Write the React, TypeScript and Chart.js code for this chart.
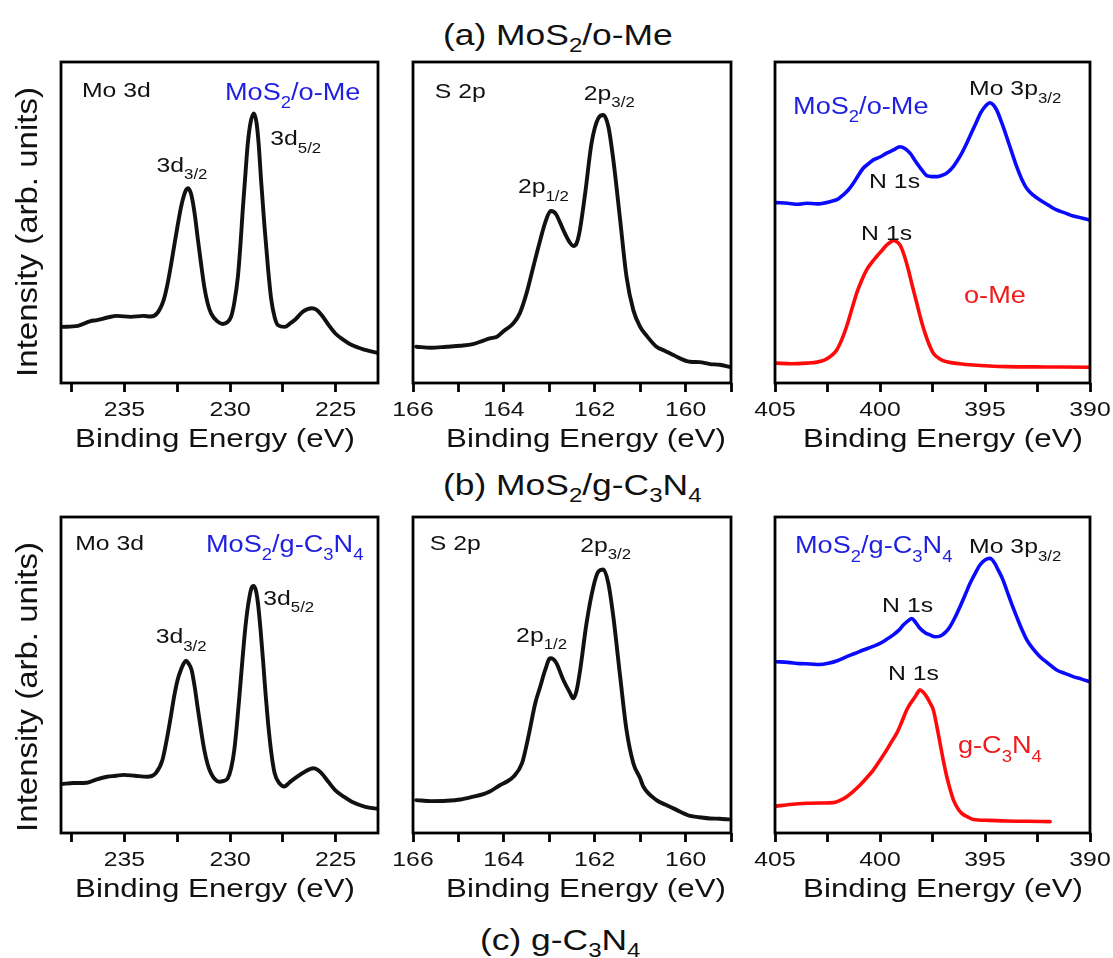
import React, { useEffect, useRef } from 'react';
import { Chart, registerables } from 'chart.js';

Chart.register(...registerables);

// ---------------------------------------------------------------------------
// XPS spectra: binding energy (eV) and normalised intensity (arb. units)
// ---------------------------------------------------------------------------

// (a) MoS2/o-Me — Mo 3d
const oMeMo3dEnergy = [237.97, 237.2, 236.6, 236.3, 235.8, 235.35, 234.7, 234.1, 233.76, 233.44, 233.14, 232.97, 232.81, 232.65, 232.49, 232.33, 232.2, 232.08, 231.99, 231.88, 231.78, 231.66, 231.54, 231.38, 231.22, 231.06, 230.9, 230.6, 230.35, 230.12, 229.95, 229.8, 229.63, 229.52, 229.4, 229.28, 229.16, 229.02, 228.87, 228.75, 228.65, 228.52, 228.37, 228.2, 228.05, 227.89, 227.73, 227.41, 227.15, 226.94, 226.54, 226.14, 225.9, 225.67, 225.35, 225.03, 224.6, 224.24, 223.6, 222.97];
const oMeMo3dIntensity = [17.5, 17.8, 19.3, 19.6, 20.4, 20.9, 20.6, 20.9, 20.7, 21.8, 25.9, 30.5, 36.2, 42.5, 48.7, 54.5, 58.0, 60.2, 60.7, 59.6, 57.0, 52.0, 45.6, 37.5, 30.0, 24.8, 21.7, 19.2, 18.4, 19.0, 20.7, 25.0, 33.1, 42.0, 53.9, 64.5, 74.7, 81.5, 84.0, 81.2, 74.7, 62.0, 48.7, 35.5, 25.9, 20.5, 18.0, 17.5, 18.6, 19.6, 22.3, 23.3, 22.8, 21.2, 18.2, 15.5, 13.3, 11.8, 10.3, 9.3];

// (a) MoS2/o-Me — S 2p
const oMeS2pEnergy = [165.93, 165.6, 165.26, 164.95, 164.68, 164.45, 164.31, 164.15, 164.02, 163.79, 163.65, 163.5, 163.35, 163.2, 163.07, 162.97, 162.9, 162.84, 162.69, 162.55, 162.47, 162.4, 162.34, 162.21, 162.07, 161.92, 161.81, 161.7, 161.59, 161.44, 161.3, 161.15, 161.0, 160.85, 160.64, 160.45, 160.27, 159.9, 159.7, 159.46, 159.25, 159.03];
const oMeS2pIntensity = [11.3, 11.0, 11.3, 11.6, 12.1, 13.2, 13.9, 14.4, 16.0, 18.6, 21.7, 28.0, 36.3, 44.5, 50.8, 53.6, 53.3, 52.3, 47.6, 43.8, 42.7, 43.5, 46.6, 59.1, 74.7, 82.5, 83.5, 79.9, 69.5, 50.8, 33.1, 22.7, 17.5, 14.6, 11.3, 10.0, 8.7, 6.6, 6.5, 5.9, 5.7, 5.0];

// (a) MoS2/o-Me — N 1s / Mo 3p region
const oMeN1sEnergy = [404.95, 404.4, 403.9, 403.49, 403.0, 402.38, 402.0, 401.75, 401.5, 401.27, 401.0, 400.8, 400.55, 400.32, 400.0, 399.68, 399.35, 399.05, 398.8, 398.57, 398.3, 398.01, 397.75, 397.54, 397.25, 396.99, 396.75, 396.51, 396.2, 395.87, 395.6, 395.4, 395.2, 395.0, 394.76, 394.6, 394.44, 394.2, 393.97, 393.73, 393.49, 393.25, 393.01, 392.7, 392.38, 391.98, 391.59, 391.2, 390.8, 390.4, 390.03];
const oMeN1sIntensity = [56.2, 56.0, 55.7, 56.0, 55.8, 56.5, 57.3, 58.6, 60.2, 62.2, 65.0, 66.9, 68.3, 69.5, 70.4, 71.6, 72.6, 73.6, 73.0, 71.6, 69.0, 66.4, 64.5, 64.3, 64.3, 64.8, 65.8, 67.4, 70.5, 74.7, 78.6, 81.4, 84.2, 86.1, 87.3, 86.6, 85.0, 81.0, 76.7, 72.0, 67.4, 63.5, 60.6, 58.5, 57.0, 55.4, 53.9, 53.0, 52.0, 51.4, 50.8];

// o-Me reference — N 1s
const oMeRefEnergy = [404.95, 404.2, 403.49, 403.0, 402.62, 402.3, 402.06, 401.82, 401.59, 401.35, 401.11, 400.87, 400.63, 400.4, 400.16, 399.92, 399.68, 399.5, 399.37, 399.2, 399.05, 398.85, 398.65, 398.45, 398.25, 398.05, 397.86, 397.66, 397.46, 397.15, 396.82, 396.2, 395.56, 394.8, 393.97, 392.0, 390.03];
const oMeRefIntensity = [6.2, 6.0, 6.2, 6.5, 7.2, 8.6, 10.3, 13.5, 17.6, 22.8, 28.0, 32.0, 35.3, 37.5, 39.4, 41.2, 43.0, 43.9, 44.4, 44.0, 43.0, 39.8, 35.3, 30.0, 24.9, 19.8, 15.6, 12.0, 9.3, 7.5, 6.6, 6.0, 5.6, 5.3, 5.1, 5.0, 4.9];

// (b) MoS2/g-C3N4 — Mo 3d
const gcnMo3dEnergy = [237.97, 237.4, 236.78, 236.3, 235.82, 235.4, 235.03, 234.5, 233.92, 233.52, 233.2, 232.97, 232.8, 232.65, 232.48, 232.33, 232.18, 232.08, 231.96, 231.82, 231.68, 231.54, 231.38, 231.22, 231.06, 230.9, 230.7, 230.51, 230.3, 230.11, 229.95, 229.8, 229.68, 229.56, 229.44, 229.32, 229.2, 229.08, 228.98, 228.89, 228.78, 228.68, 228.56, 228.44, 228.32, 228.2, 228.05, 227.89, 227.65, 227.44, 227.2, 226.94, 226.46, 226.06, 225.85, 225.67, 225.35, 225.03, 224.6, 224.24, 223.6, 222.97];
const gcnMo3dIntensity = [15.5, 15.8, 15.9, 17.0, 17.8, 18.1, 18.4, 18.1, 17.8, 18.9, 23.1, 30.5, 37.0, 43.1, 48.5, 51.6, 53.8, 54.5, 53.6, 51.6, 46.5, 40.0, 32.8, 26.3, 21.7, 18.9, 16.9, 16.2, 16.5, 17.3, 20.5, 26.3, 34.0, 43.1, 52.8, 62.1, 69.5, 74.8, 77.6, 78.2, 76.8, 72.7, 64.5, 54.7, 44.0, 34.7, 25.5, 18.9, 15.6, 14.7, 15.9, 17.3, 19.4, 20.5, 20.0, 18.9, 16.2, 13.6, 11.4, 9.9, 8.3, 7.6];

// (b) MoS2/g-C3N4 — S 2p
const gcnS2pEnergy = [165.93, 165.6, 165.26, 164.95, 164.67, 164.45, 164.31, 164.08, 163.93, 163.79, 163.6, 163.46, 163.31, 163.2, 163.09, 162.98, 162.91, 162.84, 162.69, 162.55, 162.47, 162.4, 162.32, 162.18, 162.03, 161.92, 161.81, 161.7, 161.59, 161.44, 161.3, 161.15, 161.0, 160.93, 160.64, 160.45, 160.27, 159.9, 159.7, 159.46, 159.25, 159.04];
const gcnS2pIntensity = [10.4, 10.1, 10.2, 10.6, 11.5, 12.3, 13.1, 15.2, 16.3, 17.8, 22.1, 30.5, 41.0, 46.3, 51.6, 55.3, 55.0, 53.7, 48.4, 44.5, 42.6, 45.0, 51.6, 66.4, 77.9, 82.7, 83.4, 79.0, 68.4, 49.5, 32.6, 22.1, 17.3, 14.7, 10.4, 9.0, 7.8, 5.4, 5.0, 4.6, 4.5, 4.3];

// (b) MoS2/g-C3N4 — N 1s / Mo 3p region
const gcnN1sEnergy = [404.95, 404.4, 403.8, 403.33, 402.9, 402.46, 402.0, 401.59, 401.2, 400.8, 400.4, 400.0, 399.7, 399.37, 399.1, 398.89, 398.65, 398.49, 398.3, 398.1, 397.85, 397.62, 397.38, 397.14, 396.9, 396.67, 396.43, 396.19, 395.95, 395.71, 395.48, 395.24, 395.0, 394.76, 394.55, 394.37, 394.15, 393.97, 393.73, 393.49, 393.25, 393.01, 392.7, 392.38, 391.98, 391.59, 391.2, 390.8, 390.4, 390.03];
const gcnN1sIntensity = [54.2, 54.0, 53.6, 53.5, 53.3, 53.7, 54.6, 55.8, 56.8, 57.9, 58.9, 60.0, 61.2, 62.7, 64.2, 65.8, 67.2, 67.9, 66.6, 64.8, 63.4, 62.7, 62.1, 62.3, 63.4, 65.3, 68.2, 71.6, 75.3, 79.0, 82.0, 84.8, 86.4, 86.9, 85.5, 83.2, 80.2, 76.9, 72.5, 68.4, 64.5, 61.1, 58.2, 55.8, 53.6, 51.6, 50.5, 49.5, 48.7, 47.9];

// (c) g-C3N4 reference — N 1s
const gcnRefEnergy = [404.95, 404.3, 403.49, 402.8, 402.22, 401.9, 401.59, 401.27, 400.95, 400.63, 400.32, 400.0, 399.68, 399.44, 399.2, 398.96, 398.73, 398.53, 398.33, 398.2, 398.1, 397.95, 397.78, 397.62, 397.46, 397.3, 397.14, 396.98, 396.82, 396.66, 396.5, 396.3, 396.11, 395.8, 395.56, 394.8, 393.97, 393.0, 391.9];
const gcnRefIntensity = [8.5, 9.0, 9.4, 9.5, 9.6, 10.3, 11.5, 13.2, 15.2, 17.5, 19.9, 23.0, 26.3, 29.0, 31.6, 35.2, 38.9, 41.2, 43.1, 44.5, 45.3, 44.6, 43.1, 41.2, 38.9, 34.0, 28.4, 22.8, 17.8, 13.8, 10.4, 7.8, 6.2, 5.0, 4.3, 4.0, 3.8, 3.7, 3.6];

// Axis ticks (every tick gets a mark, labelled ones get a number)
const mo3dTicks = [237.5, 235, 232.5, 230, 227.5, 225];
const mo3dTickLabels = [235, 230, 225];
const s2pTicks = [166, 165, 164, 163, 162, 161, 160, 159];
const s2pTickLabels = [166, 164, 162, 160];
const n1sTicks = [405, 402.5, 400, 397.5, 395, 392.5, 390];
const n1sTickLabels = [405, 400, 395, 390];

// ---------------------------------------------------------------------------
// Styling
// ---------------------------------------------------------------------------
const FONT = '"Liberation Sans", Arial, Helvetica, sans-serif';
const SX = 1.18; // horizontal text stretch used throughout the figure
const BLACK = '#111111';
const BLUE_LINE = '#0a0aff';
const RED_LINE = '#ff0a0a';
const BLUE_TEXT = '#1f1fe0';
const RED_TEXT = '#ee1c1c';

type Seg = { t: string; sub: boolean };

// "MoS_{2}/o-Me" -> text runs with subscripts
function parseRich(s: string): Seg[] {
  const out: Seg[] = [];
  const re = /_\{([^}]*)\}/g;
  let last = 0;
  let m: RegExpExecArray | null;
  while ((m = re.exec(s))) {
    if (m.index > last) out.push({ t: s.slice(last, m.index), sub: false });
    out.push({ t: m[1], sub: true });
    last = m.index + m[0].length;
  }
  if (last < s.length) out.push({ t: s.slice(last), sub: false });
  return out;
}

function drawRich(
  ctx: CanvasRenderingContext2D,
  text: string,
  x: number,
  y: number,
  size: number,
  color: string,
  align: 'left' | 'center'
) {
  const segs = parseRich(text);
  const subSize = size * 0.68;
  const font = (s: number) => `${s}px ${FONT}`;
  ctx.save();
  ctx.fillStyle = color;
  ctx.textAlign = 'left';
  ctx.textBaseline = 'alphabetic';
  let w = 0;
  for (const sg of segs) {
    ctx.font = font(sg.sub ? subSize : size);
    w += ctx.measureText(sg.t).width;
  }
  ctx.translate(x, y);
  ctx.scale(SX, 1);
  let cx = align === 'center' ? -w / 2 : 0;
  for (const sg of segs) {
    ctx.font = font(sg.sub ? subSize : size);
    ctx.fillText(sg.t, cx, sg.sub ? size * 0.36 : 0);
    cx += ctx.measureText(sg.t).width;
  }
  ctx.restore();
}

type Series = { energy: number[]; intensity: number[]; color: string; width: number };
type Note = { e: number; i: number; text: string; color: string; size: number };

type PanelSpec = {
  key: string;
  left: number;
  top: number;
  width: number;
  height: number;
  padLeft: number;
  padRight: number;
  padTop: number;
  axisHeight: number;
  min: number;
  max: number;
  ticks: number[];
  tickLabels: number[];
  titleX: number;
  series: Series[];
  notes: Note[];
  yTitleCenter?: number;
};

const ROW1 = { top: 50, height: 420, padTop: 12, axisHeight: 87 };
const ROW2 = { top: 505, height: 415, padTop: 12, axisHeight: 87 };
const COL_A = { left: 0, width: 400, padLeft: 61, padRight: 22, titleX: 215 };
const COL_B = { left: 380, width: 380, padLeft: 33, padRight: 29, titleX: 586 };
const COL_C = { left: 740, width: 373, padLeft: 35, padRight: 23, titleX: 943 };

const MO3D = { min: 223, max: 238, ticks: mo3dTicks, tickLabels: mo3dTickLabels };
const S2P = { min: 159, max: 166, ticks: s2pTicks, tickLabels: s2pTickLabels };
const N1S = { min: 390, max: 405, ticks: n1sTicks, tickLabels: n1sTickLabels };

const note = (e: number, i: number, text: string, color = BLACK, size = 21): Note => ({ e, i, text, color, size });

const panels: PanelSpec[] = [
  {
    key: 'a-mo3d', ...ROW1, ...COL_A, ...MO3D, yTitleCenter: 232,
    series: [{ energy: oMeMo3dEnergy, intensity: oMeMo3dIntensity, color: BLACK, width: 3.9 }],
    notes: [
      note(237.01, 89.2, 'Mo 3d'),
      note(230.24, 88.2, 'MoS_{2}/o-Me', BLUE_TEXT, 23),
      note(233.48, 65.8, '3d_{3/2}'),
      note(228.1, 74.1, '3d_{5/2}'),
    ],
  },
  {
    key: 'a-s2p', ...ROW1, ...COL_B, ...S2P,
    series: [{ energy: oMeS2pEnergy, intensity: oMeS2pIntensity, color: BLACK, width: 3.9 }],
    notes: [
      note(165.52, 88.7, 'S 2p'),
      note(162.24, 88.2, '2p_{3/2}'),
      note(163.69, 59.1, '2p_{1/2}'),
    ],
  },
  {
    key: 'a-n1s', ...ROW1, ...COL_C, ...N1S,
    series: [
      { energy: oMeN1sEnergy, intensity: oMeN1sIntensity, color: BLUE_LINE, width: 3.6 },
      { energy: oMeRefEnergy, intensity: oMeRefIntensity, color: RED_LINE, width: 3.6 },
    ],
    notes: [
      note(404.14, 83.8, 'MoS_{2}/o-Me', BLUE_TEXT, 23),
      note(395.76, 89.7, 'Mo 3p_{3/2}'),
      note(400.52, 60.7, 'N 1s'),
      note(400.9, 44.5, 'N 1s'),
      note(396.0, 24.8, 'o-Me', RED_TEXT, 23),
    ],
  },
  {
    key: 'b-mo3d', ...ROW2, ...COL_A, ...MO3D, yTitleCenter: 687,
    series: [{ energy: gcnMo3dEnergy, intensity: gcnMo3dIntensity, color: BLACK, width: 3.9 }],
    notes: [
      note(237.33, 89.6, 'Mo 3d'),
      note(231.14, 89.0, 'MoS_{2}/g-C_{3}N_{4}', BLUE_TEXT, 23),
      note(233.52, 60.0, '3d_{3/2}'),
      note(228.43, 72.2, '3d_{5/2}'),
    ],
  },
  {
    key: 'b-s2p', ...ROW2, ...COL_B, ...S2P,
    series: [{ energy: gcnS2pEnergy, intensity: gcnS2pIntensity, color: BLACK, width: 3.9 }],
    notes: [
      note(165.63, 89.6, 'S 2p'),
      note(162.32, 89.0, '2p_{3/2}'),
      note(163.73, 60.5, '2p_{1/2}'),
    ],
  },
  {
    key: 'b-n1s', ...ROW2, ...COL_C, ...N1S,
    series: [
      { energy: gcnN1sEnergy, intensity: gcnN1sIntensity, color: BLUE_LINE, width: 3.6 },
      { energy: gcnRefEnergy, intensity: gcnRefIntensity, color: RED_LINE, width: 3.6 },
    ],
    notes: [
      note(404.05, 88.5, 'MoS_{2}/g-C_{3}N_{4}', BLUE_TEXT, 23),
      note(395.76, 88.5, 'Mo 3p_{3/2}'),
      note(399.9, 70.0, 'N 1s'),
      note(399.62, 48.4, 'N 1s'),
      note(396.29, 25.2, 'g-C_{3}N_{4}', RED_TEXT, 23),
    ],
  },
];

function makeDecor(spec: PanelSpec) {
  return {
    id: 'decor-' + spec.key,
    afterDatasetsDraw(chart: any) {
      const ctx: CanvasRenderingContext2D = chart.ctx;
      const a = chart.chartArea;
      const xs = chart.scales.x;
      const ys = chart.scales.y;

      // closed frame around the plot area
      ctx.save();
      ctx.strokeStyle = '#000';
      ctx.lineWidth = 2.8;
      ctx.strokeRect(a.left, a.top, a.right - a.left, a.bottom - a.top);
      ctx.restore();

      // tick numbers
      for (const v of spec.tickLabels) {
        drawRich(ctx, String(v), xs.getPixelForValue(v), a.bottom + 33, 21, BLACK, 'center');
      }
      // axis title
      drawRich(ctx, 'Binding Energy (eV)', spec.titleX - spec.left, a.bottom + 63.5, 26.5, BLACK, 'center');

      // peak / sample annotations
      for (const n of spec.notes) {
        drawRich(ctx, n.text, xs.getPixelForValue(n.e), ys.getPixelForValue(n.i), n.size, n.color, 'left');
      }

      // shared intensity label on the left of each row
      if (spec.yTitleCenter !== undefined) {
        ctx.save();
        ctx.translate(37 - spec.left, spec.yTitleCenter - spec.top);
        ctx.rotate(-Math.PI / 2);
        ctx.scale(1, 0.92);
        ctx.font = `33px ${FONT}`;
        ctx.fillStyle = BLACK;
        ctx.textAlign = 'center';
        ctx.textBaseline = 'alphabetic';
        ctx.fillText('Intensity (arb. units)', 0, 0);
        ctx.restore();
      }
    },
  };
}

function Panel({ spec }: { spec: PanelSpec }) {
  const ref = useRef<HTMLCanvasElement>(null);
  useEffect(() => {
    const canvas = ref.current;
    if (!canvas) return;
    const chart = new Chart(canvas, {
      type: 'line',
      data: {
        datasets: spec.series.map((s) => ({
          data: s.energy.map((e, k) => ({ x: e, y: s.intensity[k] })),
          borderColor: s.color,
          borderWidth: s.width,
          pointRadius: 0,
          fill: false,
          cubicInterpolationMode: 'monotone' as const,
          borderJoinStyle: 'round' as const,
          borderCapStyle: 'round' as const,
        })),
      },
      options: {
        responsive: false,
        animation: false,
        devicePixelRatio: 1,
        events: [],
        layout: { padding: { left: spec.padLeft, right: spec.padRight, top: spec.padTop, bottom: 0 } },
        plugins: { legend: { display: false }, tooltip: { enabled: false } },
        scales: {
          x: {
            type: 'linear',
            position: 'bottom',
            min: spec.min,
            max: spec.max,
            reverse: true,
            afterBuildTicks: (scale: any) => {
              scale.ticks = spec.ticks.map((v) => ({ value: v }));
            },
            afterFit: (scale: any) => {
              scale.height = spec.axisHeight;
            },
            ticks: { display: false },
            grid: {
              display: true,
              drawOnChartArea: false,
              drawTicks: true,
              tickLength: 9,
              tickWidth: 2.8,
              tickColor: '#000',
            },
            border: { display: false },
          },
          y: { display: false, min: 0, max: 100 },
        },
      } as any,
      plugins: [makeDecor(spec)],
    });
    return () => chart.destroy();
  }, [spec]);
  return (
    <canvas
      ref={ref}
      width={spec.width}
      height={spec.height}
      style={{ position: 'absolute', left: spec.left, top: spec.top, width: spec.width, height: spec.height }}
    />
  );
}

function RowTitle({ x, baseline, text }: { x: number; baseline: number; text: string }) {
  const fs = 30;
  const lh = 30;
  const baseOffset = (lh - 1.117 * fs) / 2 + 0.905 * fs;
  return (
    <div
      style={{
        position: 'absolute',
        left: x,
        top: baseline - baseOffset,
        fontFamily: FONT,
        fontSize: fs,
        lineHeight: `${lh}px`,
        color: BLACK,
        whiteSpace: 'nowrap',
        transform: `scaleX(${SX})`,
        transformOrigin: 'left top',
      }}
    >
      {parseRich(text).map((sg, k) =>
        sg.sub ? (
          <span key={k} style={{ fontSize: fs * 0.68, position: 'relative', top: fs * 0.26 }}>
            {sg.t}
          </span>
        ) : (
          <span key={k}>{sg.t}</span>
        )
      )}
    </div>
  );
}

export default function App() {
  return (
    <div
      style={{
        position: 'fixed',
        left: 0,
        top: 0,
        width: 1113,
        height: 958,
        background: '#ffffff',
        overflow: 'hidden',
      }}
    >
      <RowTitle x={443} baseline={45} text="(a) MoS_{2}/o-Me" />
      <RowTitle x={443} baseline={495} text="(b) MoS_{2}/g-C_{3}N_{4}" />
      <RowTitle x={480} baseline={950} text="(c) g-C_{3}N_{4}" />
      {panels.map((p) => (
        <Panel key={p.key} spec={p} />
      ))}
    </div>
  );
}
